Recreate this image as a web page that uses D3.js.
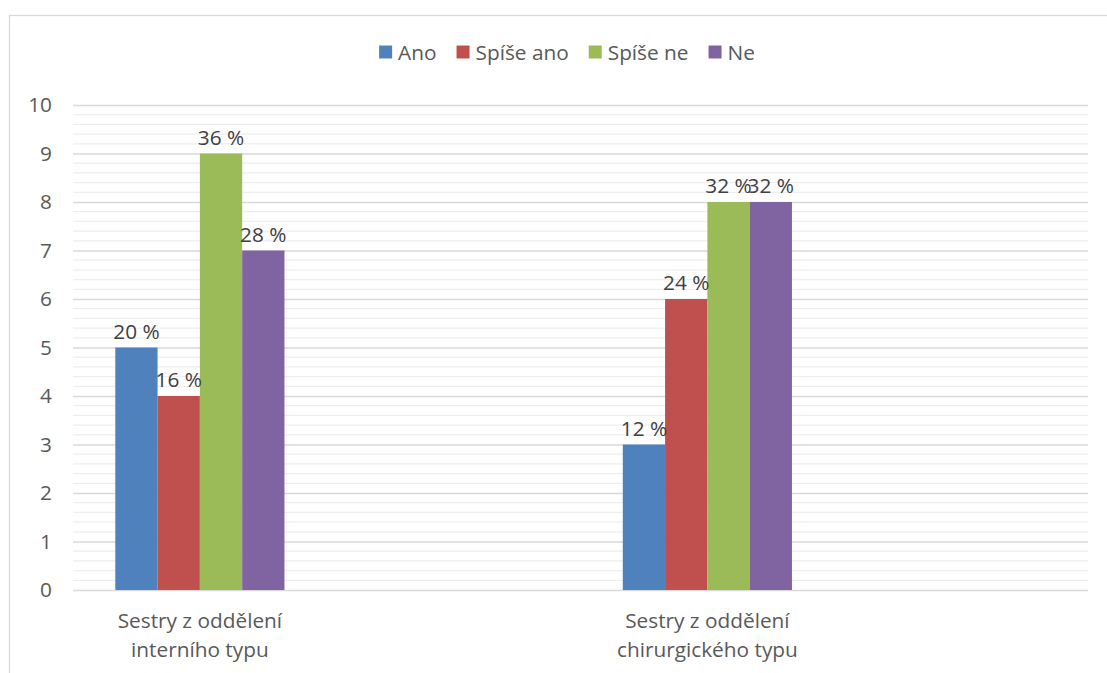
<!DOCTYPE html>
<html lang="cs">
<head>
<meta charset="utf-8">
<script src="https://cdn.jsdelivr.net/npm/d3@7"></script>
<style>
  html, body { margin: 0; padding: 0; background: #fff; }
  svg { display: block; font-family: "Open Sans", sans-serif; }
</style>
</head>
<body>
<svg id="chart" width="1107" height="673"></svg>
<script>
// Survey answers of nurses (counts out of 25 respondents per group)
const categories = ["Sestry z oddělení interního typu", "Sestry z oddělení chirurgického typu"];
const categoryLines = [["Sestry z oddělení", "interního typu"], ["Sestry z oddělení", "chirurgického typu"]];
const seriesNames = ["Ano", "Spíše ano", "Spíše ne", "Ne"];
const ano = [5, 3];
const spiseAno = [4, 6];
const spiseNe = [9, 8];
const ne = [7, 8];
const respondents = 25;
const yTicks = [0, 1, 2, 3, 4, 5, 6, 7, 8, 9, 10];
const colors = ["#4F81BD", "#C0504D", "#9BBB59", "#8064A2"];

const seriesValues = [ano, spiseAno, spiseNe, ne];

const W = 1107, H = 673;
const plot = { left: 73, right: 1088, top: 105, bottom: 590 };
const textColor = "#595959";
const fontSize = 20.8;

const svg = d3.select("#chart");

// chart area frame
svg.append("rect")
  .attr("x", 9.5).attr("y", 15.5)
  .attr("width", W + 20).attr("height", H + 20)
  .attr("fill", "#fff").attr("stroke", "#d9d9d9").attr("stroke-width", 1.3);

const y = d3.scaleLinear().domain([0, 10]).range([plot.bottom, plot.top]);

// each category sits in every other slot of the category axis
const slots = d3.range(categories.length * 2);
const xSlot = d3.scaleBand().domain(slots).range([plot.left, plot.right]).padding(0);
const groupWidth = xSlot.bandwidth() * 4 / 6;
const xSeries = d3.scaleBand().domain(seriesNames).range([-groupWidth / 2, groupWidth / 2]).padding(0);
const catCenter = i => xSlot(i * 2) + xSlot.bandwidth() / 2;

// minor gridlines
const minorTicks = d3.range(0, 10.001, 0.2).filter(v => Math.abs(v - Math.round(v)) > 1e-6);
svg.append("g")
  .selectAll("line").data(minorTicks).join("line")
  .attr("x1", plot.left).attr("x2", plot.right)
  .attr("y1", d => y(d)).attr("y2", d => y(d))
  .attr("stroke", "#eeeeee").attr("stroke-width", 1.2);

// major gridlines and value axis labels
const yAxis = d3.axisLeft(y).tickValues(yTicks).tickSize(-(plot.right - plot.left)).tickPadding(21).tickFormat(d3.format("d"));
const gy = svg.append("g").attr("transform", `translate(${plot.left},0)`).call(yAxis);
gy.select(".domain").remove();
gy.selectAll(".tick line").attr("stroke", "#d9d9d9").attr("stroke-width", 1.5);
gy.selectAll(".tick text")
  .attr("fill", textColor).attr("font-size", fontSize)
  .attr("font-family", "\"Open Sans\", sans-serif");

// bars
const bars = [];
seriesValues.forEach((vals, s) => {
  vals.forEach((v, c) => bars.push({ s, c, v, name: seriesNames[s] }));
});

svg.append("g")
  .selectAll("rect").data(bars).join("rect")
  .attr("x", d => catCenter(d.c) + xSeries(d.name))
  .attr("width", xSeries.bandwidth())
  .attr("y", d => y(d.v))
  .attr("height", d => y(0) - y(d.v))
  .attr("fill", d => colors[d.s]);

// value labels as share of respondents
svg.append("g")
  .selectAll("text").data(bars).join("text")
  .attr("x", d => catCenter(d.c) + xSeries(d.name) + xSeries.bandwidth() / 2)
  .attr("y", d => y(d.v) - 9)
  .attr("text-anchor", "middle")
  .attr("fill", "#404040").attr("font-size", fontSize)
  .text(d => Math.round(d.v / respondents * 100) + " %");

// category labels
const gx = svg.append("g");
categoryLines.forEach((lines, c) => {
  const t = gx.append("text")
    .attr("x", catCenter(c)).attr("y", 628)
    .attr("text-anchor", "middle")
    .attr("fill", textColor).attr("font-size", fontSize);
  lines.forEach((ln, i) => {
    t.append("tspan").attr("x", catCenter(c)).attr("dy", i === 0 ? 0 : 29).text(ln);
  });
});

// legend
const legend = svg.append("g");
const box = 13, gapText = 6, gapItem = 20;
let cursor = 0;
seriesNames.forEach((name, i) => {
  const g = legend.append("g");
  g.append("rect").attr("width", box).attr("height", box).attr("y", -box / 2 - 1).attr("fill", colors[i]);
  const t = g.append("text").attr("x", box + gapText).attr("y", 0).attr("dy", "0.35em")
    .attr("fill", textColor).attr("font-size", fontSize).text(name);
  const w = box + gapText + t.node().getComputedTextLength();
  g.attr("transform", `translate(${cursor},0)`);
  cursor += w + gapItem;
});
const legendWidth = cursor - gapItem;
legend.attr("transform", `translate(${567 - legendWidth / 2},53)`);
</script>
</body>
</html>
